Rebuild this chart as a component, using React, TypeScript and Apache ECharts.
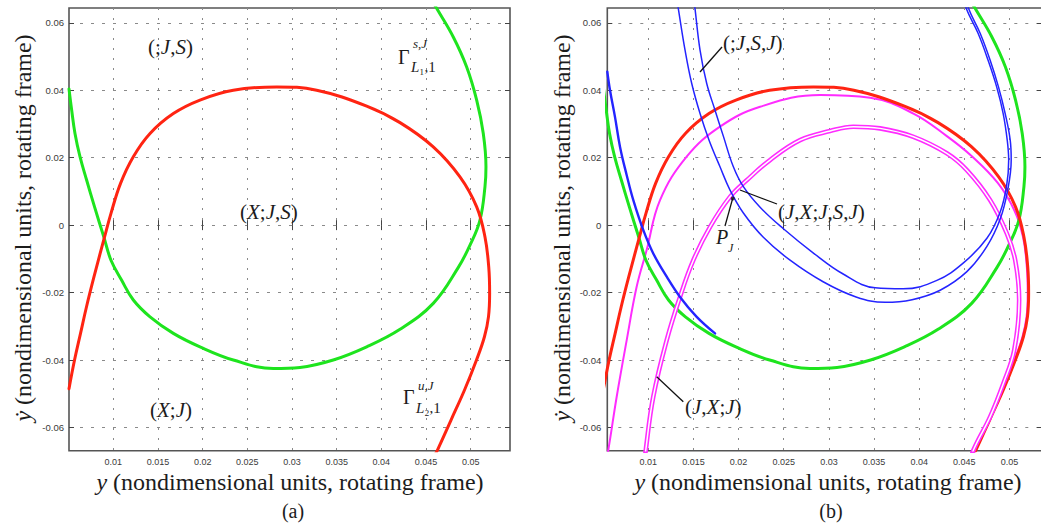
import React, { useEffect, useRef } from "react";
import * as echarts from "echarts";

// ---------- axis ticks / ranges ----------
const X_TICKS = [0.01, 0.015, 0.02, 0.025, 0.03, 0.035, 0.04, 0.045, 0.05];
const Y_TICKS = [-0.06, -0.04, -0.02, 0, 0.02, 0.04, 0.06];
const X_RANGE_A = [0.00504, 0.0544];
const X_RANGE_B = [0.00546, 0.0536];
const Y_RANGE = [-0.0669, 0.0644];

// ---------- curves (y, ydot) ----------
const stableManifoldL1 = [
  [0.00504, 0.0404], [0.00534, 0.0341], [0.00571, 0.0272], [0.00627, 0.0203],
  [0.00702, 0.0133], [0.0079, 0.0054], [0.00894, -0.0035], [0.00974, -0.0104], [0.01092, -0.0163],
  [0.01224, -0.0222], [0.01411, -0.0272], [0.01672, -0.0321], [0.0197, -0.0361], [0.02343, -0.04],
  [0.02791, -0.0425], [0.03089, -0.0422], [0.03462, -0.04], [0.03836, -0.0361], [0.04209, -0.0309],
  [0.04581, -0.0232], [0.0486, -0.0126], [0.04995, -0.0058], [0.05104, 0.0015], [0.0516, 0.0114],
  [0.05171, 0.0173], [0.05141, 0.0272], [0.05067, 0.0371], [0.04955, 0.0469], [0.04805, 0.0558],
  [0.04619, 0.0643], [0.0456, 0.067],
];

const unstableManifoldL2 = [
  [0.00504, -0.0485], [0.00566, -0.04], [0.00633, -0.0321], [0.007, -0.0242], [0.00784, -0.0153],
  [0.00902, -0.0035], [0.00974, 0.0035], [0.01081, 0.0124], [0.01224, 0.0203], [0.01411, 0.0272],
  [0.01672, 0.0331], [0.0197, 0.0371], [0.02343, 0.04], [0.02829, 0.041], [0.03276, 0.04],
  [0.03836, 0.0353], [0.04209, 0.0304], [0.04581, 0.0232], [0.0488, 0.0143], [0.05067, 0.0054],
  [0.0516, -0.0035], [0.05202, -0.0124], [0.05212, -0.0203], [0.05199, -0.0272], [0.05154, -0.0331],
  [0.05065, -0.04], [0.04931, -0.0489], [0.0478, -0.0578], [0.04628, -0.0667], [0.0459, -0.0685],
];

const blueLeft = [
  [0.00546, 0.0455], [0.00576, 0.04], [0.00631, 0.0321], [0.00687, 0.0232],
  [0.00761, 0.0148], [0.00834, 0.0074], [0.00945, -0.0015], [0.01055, -0.0084], [0.01204, -0.0153],
  [0.01351, -0.0213], [0.01536, -0.0272], [0.01739, -0.0321],
];

const blueOuter = [
  [0.0131, 0.068], [0.01332, 0.0643], [0.01407, 0.0519], [0.01481, 0.042], [0.01573, 0.0331],
  [0.01673, 0.0252], [0.01794, 0.0173], [0.01905, 0.0104], [0.02053, 0.0036], [0.02274, -0.0036],
  [0.0257, -0.0104], [0.02936, -0.0168], [0.03301, -0.0213], [0.03622, -0.0229], [0.03921, -0.0221],
  [0.04232, -0.0193], [0.04528, -0.0138], [0.0475, -0.0063], [0.04897, 0.0018], [0.0498, 0.0104],
  [0.05019, 0.0193], [0.05008, 0.0252], [0.04952, 0.0331], [0.04878, 0.041], [0.04786, 0.0489],
  [0.04675, 0.0569], [0.04546, 0.0643], [0.0452, 0.068],
];

const blueInner = [
  [0.015, 0.068], [0.01517, 0.0643], [0.01573, 0.0519], [0.01647, 0.042], [0.01739, 0.0341],
  [0.01831, 0.0264], [0.01942, 0.0173], [0.02053, 0.0114], [0.02238, 0.0053], [0.02493, -0.001],
  [0.02825, -0.0082], [0.03158, -0.0145], [0.03512, -0.0186], [0.03822, -0.0189], [0.04196, -0.0164],
  [0.0449, -0.0112], [0.0475, -0.0039], [0.04897, 0.0039], [0.04969, 0.0119], [0.04991, 0.0193],
  [0.04975, 0.0252], [0.0493, 0.0331], [0.04858, 0.041], [0.04763, 0.0489], [0.04652, 0.0569],
  [0.0452, 0.0643], [0.0449, 0.068],
];

const magentaOuter = [
  [0.0053, -0.07], [0.00557, -0.0667], [0.0065, -0.0509], [0.00761, -0.0341], [0.00871, -0.0183],
  [0.00982, -0.0074], [0.0113, 0.0074], [0.01425, 0.0203], [0.01794, 0.0292], [0.02238, 0.0351],
  [0.02903, 0.0386], [0.03457, 0.0378], [0.03936, 0.0331], [0.04306, 0.0264], [0.0458, 0.0205],
  [0.0487, 0.0125], [0.05057, 0.0042], [0.0515, -0.0035], [0.05192, -0.0124], [0.05202, -0.0203],
  [0.05189, -0.0272], [0.05144, -0.0331], [0.05055, -0.04], [0.04921, -0.0489], [0.0477, -0.0578],
  [0.04618, -0.0667], [0.0458, -0.0685],
];

const magentaInner = [
  [0.00962, -0.07], [0.00972, -0.0667], [0.01055, -0.0509], [0.01204, -0.0341], [0.01351, -0.0213],
  [0.01499, -0.0104], [0.01684, -0.0005], [0.01905, 0.0084], [0.0209, 0.0133], [0.02348, 0.0193],
  [0.02681, 0.0252], [0.03013, 0.0279], [0.03271, 0.0292], [0.03567, 0.0287], [0.03936, 0.0262],
  [0.04306, 0.0213], [0.04528, 0.0163], [0.04786, 0.0074], [0.04971, -0.0025], [0.05063, -0.0104],
  [0.05107, -0.0222], [0.05052, -0.0371], [0.04933, -0.0469], [0.04786, -0.0568], [0.04601, -0.0667],
  [0.0457, -0.07],
];

const pointPJ = [[0.01935, 0.0079]];

// ---------- colours ----------
const GREEN = "#1ee41e";
const RED = "#ff2412";
const BLUE = "#2424ff";
const MAGENTA = "#ff2cff";

const SERIF = "'Liberation Serif', 'DejaVu Serif', 'Times New Roman', serif";
const SANS = "'Liberation Sans', Arial, sans-serif";
const TXT = "#1c1c1c";

const fmt = (v: number) => String(parseFloat(Number(v).toFixed(4)));

function xAxes(gridIndex: number, range: number[]) {
  return [
    {
      type: "value", gridIndex, position: "bottom", min: range[0], max: range[1],
      axisLine: { show: false },
      axisTick: { show: true, inside: true, length: 5, customValues: X_TICKS, lineStyle: { color: "#444", width: 1 } },
      axisLabel: { show: true, customValues: X_TICKS, formatter: fmt, fontSize: 9, color: "#3a3a3a", margin: 7, fontFamily: SANS },
      splitLine: { show: true, lineStyle: { color: "#8a8a8a", type: [2, 8], width: 1 } },
    },
    {
      type: "value", gridIndex, position: "top", min: range[0], max: range[1],
      axisLine: { show: false },
      axisTick: { show: true, inside: true, length: 5, customValues: X_TICKS, lineStyle: { color: "#444", width: 1 } },
      axisLabel: { show: false },
      splitLine: { show: false },
    },
  ];
}

function yAxes(gridIndex: number, margin: number) {
  return [
    {
      type: "value", gridIndex, position: "left", min: Y_RANGE[0], max: Y_RANGE[1],
      axisLine: { show: false },
      axisTick: { show: true, inside: true, length: 5, customValues: Y_TICKS, lineStyle: { color: "#444", width: 1 } },
      axisLabel: { show: true, customValues: Y_TICKS, formatter: fmt, fontSize: 9.5, color: "#3a3a3a", margin, fontFamily: SANS },
      splitLine: { show: true, lineStyle: { color: "#8a8a8a", type: [3, 8], width: 1 } },
    },
    {
      type: "value", gridIndex, position: "right", min: Y_RANGE[0], max: Y_RANGE[1],
      axisLine: { show: false },
      axisTick: { show: true, inside: true, length: 5, customValues: Y_TICKS, lineStyle: { color: "#444", width: 1 } },
      axisLabel: { show: false },
      splitLine: { show: false },
    },
  ];
}

function curve(data: number[][], color: string, width: number, axis: number, z = 2) {
  return {
    type: "line", data, xAxisIndex: axis, yAxisIndex: axis, showSymbol: false, symbol: "none",
    smooth: 0.4, clip: true, silent: true, z,
    lineStyle: { color, width, cap: "round", join: "round" },
  };
}

const richMath = (size: number) => ({
  n: { fontFamily: SERIF, fontSize: size, fill: TXT, color: TXT },
  i: { fontFamily: SERIF, fontSize: size, fontStyle: "italic", fill: TXT, color: TXT },
});

function mathLabel(x: number, y: number, text: string, size: number, align = "left", rotation = 0) {
  return {
    type: "text", x, y, rotation, z: 50,
    style: {
      text, rich: richMath(size), fill: TXT,
      font: `${size}px ${SERIF}`,
      align, textAlign: align, verticalAlign: "middle", textVerticalAlign: "middle",
    },
  };
}

function leader(x1: number, y1: number, x2: number, y2: number) {
  return { type: "line", z: 50, shape: { x1, y1, x2, y2 }, style: { stroke: "#111", lineWidth: 1.3 } };
}

const AXIS_TITLE_X = "{i|y}{n| (nondimensional units, rotating frame)}";
const AXIS_TITLE_Y = "{i|ẏ}{n| (nondimensional units, rotating frame)}";

const graphics = [
  // panel (a) region labels
  mathLabel(148, 47, "{n|(;}{i|J}{n|,}{i|S}{n|)}", 21),
  mathLabel(240, 212, "{n|(}{i|X}{n|;}{i|J}{n|,}{i|S}{n|)}", 21),
  mathLabel(150, 410, "{n|(}{i|X}{n|;}{i|J}{n|)}", 21),
  // Gamma^{s,J}_{L1,1}
  mathLabel(398, 57, "{n|Γ}", 20),
  mathLabel(413, 43, "{i|s}{n|,}{i|J}", 13),
  mathLabel(411, 67, "{i|L}{n|₁,1}", 15),
  // Gamma^{u,J}_{L2,1}
  mathLabel(403, 397, "{n|Γ}", 20),
  mathLabel(418, 385, "{i|u}{n|,}{i|J}", 13),
  mathLabel(416, 408, "{i|L}{n|₂,1}", 15),
  // panel (b) labels
  mathLabel(723, 43, "{n|(;}{i|J}{n|,}{i|S}{n|,}{i|J}{n|)}", 21),
  leader(700, 72, 722, 47),
  mathLabel(778, 212, "{n|(}{i|J}{n|,}{i|X}{n|;}{i|J}{n|,}{i|S}{n|,}{i|J}{n|)}", 21),
  leader(740, 190, 777, 204),
  mathLabel(716, 237, "{i|P}", 20),
  mathLabel(728, 248, "{i|J}", 12),
  leader(732.7, 198.3, 725, 226),
  mathLabel(685, 407, "{n|(}{i|J}{n|,}{i|X}{n|;}{i|J}{n|)}", 21),
  leader(656.7, 376.7, 683.3, 401.7),
  // axis titles
  mathLabel(290, 482, AXIS_TITLE_X, 24, "center"),
  mathLabel(828, 482, AXIS_TITLE_X, 24, "center"),
  mathLabel(23, 228, AXIS_TITLE_Y, 24, "center", Math.PI / 2),
  mathLabel(562, 228, AXIS_TITLE_Y, 24, "center", Math.PI / 2),
  // captions
  mathLabel(293, 511, "{n|(a)}", 20, "center"),
  mathLabel(831, 511, "{n|(b)}", 20, "center"),
];

const option = {
  animation: false,
  backgroundColor: "#ffffff",
  grid: [
    { left: 69, top: 8, width: 441, height: 442.7, show: true, borderColor: "#555", borderWidth: 1.6, backgroundColor: "transparent", containLabel: false, outerBoundsMode: "none" },
    { left: 607.3, top: 8, width: 434.7, height: 442.7, show: true, borderColor: "#555", borderWidth: 1.6, backgroundColor: "transparent", containLabel: false, outerBoundsMode: "none" },
  ],
  xAxis: [...xAxes(0, X_RANGE_A), ...xAxes(1, X_RANGE_B)],
  yAxis: [...yAxes(0, 5), ...yAxes(1, 6)],
  series: [
    // panel (a)
    curve(stableManifoldL1, GREEN, 3, 0, 3),
    curve(unstableManifoldL2, RED, 3, 0, 4),
    // panel (b)
    curve(magentaOuter, MAGENTA, 2, 2, 2),
    curve(stableManifoldL1, GREEN, 3, 2, 3),
    curve(unstableManifoldL2, RED, 3, 2, 4),
    curve(magentaInner, MAGENTA, 4.6, 2, 5),
    curve(magentaInner, "#ffffff", 1.5, 2, 6),
    curve(blueLeft, BLUE, 2.4, 2, 7),
    curve(blueOuter, BLUE, 1.5, 2, 7),
    curve(blueInner, BLUE, 1.5, 2, 7),
    {
      type: "scatter", data: pointPJ, xAxisIndex: 2, yAxisIndex: 2, symbolSize: 4, silent: true, z: 9,
      itemStyle: { color: "#111" },
    },
  ],
  graphic: graphics,
};

export default function App() {
  const ref = useRef<HTMLDivElement>(null);
  useEffect(() => {
    if (!ref.current) return;
    const chart = echarts.init(ref.current, null, { renderer: "svg" });
    chart.setOption(option as any);
    return () => chart.dispose();
  }, []);
  return (
    <div
      ref={ref}
      style={{ position: "fixed", left: 0, top: 0, width: 1041, height: 527, background: "#fff" }}
    />
  );
}
